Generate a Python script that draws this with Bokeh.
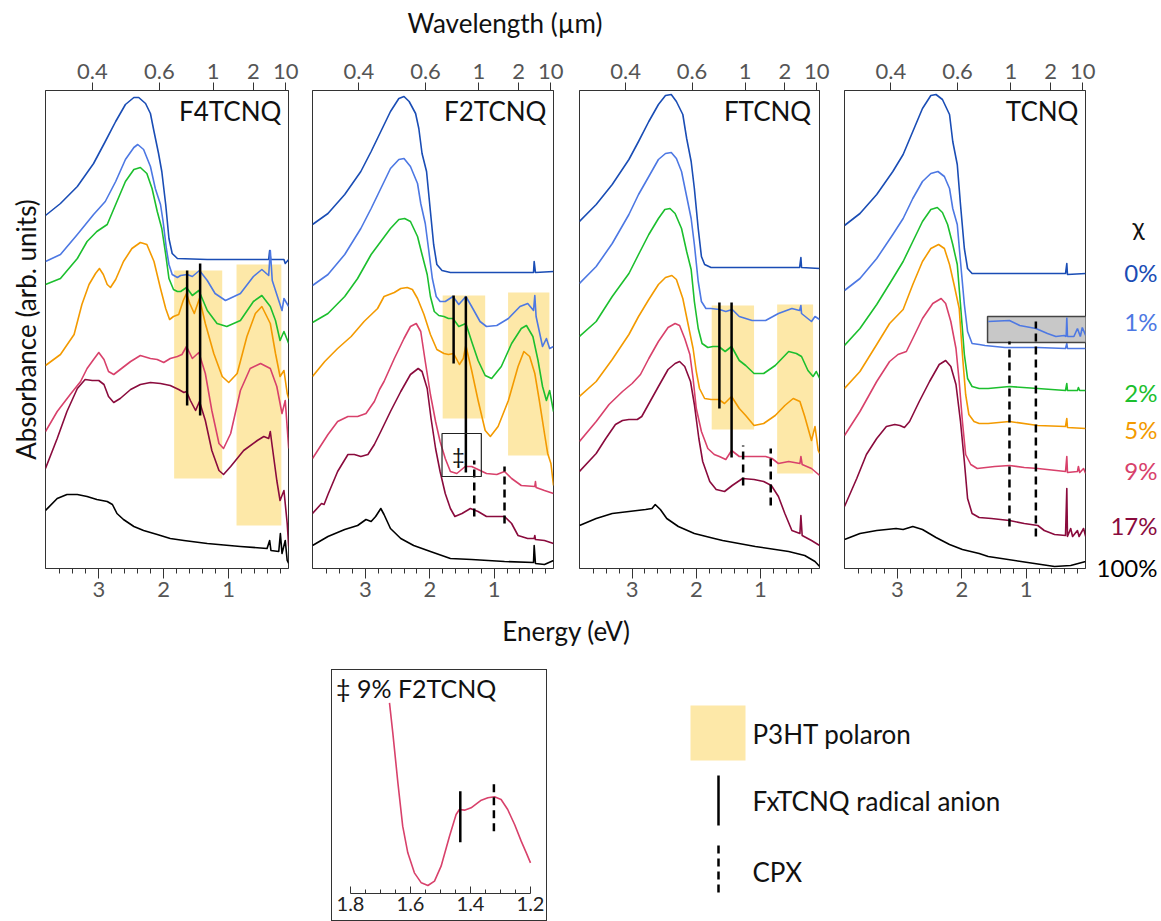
from bokeh.plotting import figure
from bokeh.models import (Range1d, LinearAxis, FixedTicker, CustomJSTickFormatter, Label,
                          ColumnDataSource, Spacer)
from bokeh.layouts import row, column
from bokeh.embed import file_html
from bokeh.resources import INLINE
from bokeh.core.properties import value

FONT = "Lato"
HC = 1.23984  # eV*um

CONC_LABELS = ["0%", "1%", "2%", "5%", "9%", "17%", "100%"]
CONC_LABEL_Y = [2.96, 2.47, 1.76, 1.39, 0.98, 0.43, 0.01]
COLORS = ["#1a4db5", "#4d78e3", "#1cbf2e", "#f39a00", "#d8416b", "#8a0b3d", "#000000"]
DOPANTS = ["F4TCNQ", "F2TCNQ", "FTCNQ", "TCNQ"]
WAVELENGTH_TICKS = [0.4, 0.6, 1, 2, 10]
ENERGY_TICKS = [3, 2, 1]
ENERGY_MINOR = [3.6, 3.4, 3.2, 2.8, 2.6, 2.4, 2.2, 1.8, 1.6, 1.4, 1.2, 0.8, 0.6, 0.4, 0.2]
INSET_TICKS = [1.8, 1.6, 1.4, 1.2]
INSET_MINOR = [1.75, 1.7, 1.65, 1.55, 1.5, 1.45, 1.35, 1.3, 1.25]

# ---------------- F4TCNQ spectra (energy eV, absorbance offset a.u.) ----------------
F4_0 = [(3.82,3.53),(3.59,3.65),(3.33,3.82),(3.08,4.05),(2.90,4.27),(2.74,4.47),(2.59,4.64),(2.46,4.71),
        (2.385,4.71),(2.28,4.65),(2.205,4.55),(2.15,4.37),(2.08,4.15),(2.03,3.97),(1.97,3.64),(1.92,3.30),
        (1.87,3.15),(1.79,3.10),(1.33,3.09),(0.82,3.09),(0.385,3.09),(0.37,3.18),(0.355,3.09),(0.15,3.09),
        (0.13,3.05),(0.077,3.09)]
F4_1 = [(3.82,3.07),(3.59,3.14),(3.33,3.34),(3.08,3.54),(2.90,3.67),(2.74,3.87),(2.59,4.09),(2.46,4.21),
        (2.40,4.24),(2.31,4.19),(2.205,4.02),(2.13,3.80),(2.05,3.64),(2.01,3.47),(1.96,3.20),(1.92,3.04),
        (1.87,2.94),(1.79,2.91),(1.74,2.93),(1.64,2.94),(1.56,2.92),(1.45,2.98),(1.33,2.88),(1.21,2.75),
        (1.05,2.68),(0.82,2.75),(0.62,2.92),(0.49,2.99),(0.385,2.93),(0.36,3.18),(0.33,2.88),(0.23,2.68),
        (0.18,2.58),(0.15,2.70),(0.077,2.62)]
F4_2 = [(3.82,2.84),(3.59,2.90),(3.33,3.10),(3.18,3.27),(3.03,3.37),(2.87,3.44),(2.74,3.64),(2.59,3.87),
        (2.46,3.99),(2.36,4.01),(2.26,3.95),(2.18,3.80),(2.10,3.57),(2.03,3.40),(1.97,3.14),(1.92,2.90),
        (1.85,2.79),(1.79,2.77),(1.74,2.77),(1.65,2.81),(1.56,2.73),(1.46,2.78),(1.33,2.58),(1.18,2.45),
        (1.03,2.42),(0.82,2.48),(0.62,2.67),(0.49,2.73),(0.36,2.62),(0.28,2.48),(0.21,2.28),(0.15,2.37),
        (0.077,2.25)]
F4_5 = [(3.82,2.03),(3.59,2.14),(3.38,2.34),(3.26,2.64),(3.15,2.84),(3.05,2.95),(2.99,3.00),(2.93,2.94),
        (2.87,2.84),(2.82,2.81),(2.74,2.89),(2.62,3.07),(2.49,3.20),(2.36,3.26),(2.26,3.24),(2.15,3.07),
        (2.05,2.80),(1.97,2.60),(1.91,2.49),(1.85,2.52),(1.77,2.54),(1.70,2.68),(1.65,2.75),(1.60,2.65),
        (1.53,2.55),(1.45,2.70),(1.36,2.45),(1.23,2.15),(1.10,1.92),(1.00,1.86),(0.87,1.95),(0.72,2.32),
        (0.59,2.55),(0.49,2.62),(0.36,2.45),(0.28,2.15),(0.21,1.92),(0.15,1.98),(0.10,1.75),(0.077,1.70)]
F4_9 = [(3.82,1.37),(3.64,1.57),(3.44,1.74),(3.28,1.87),(3.18,2.00),(3.08,2.09),(3.00,2.16),(2.92,2.09),
        (2.85,1.97),(2.77,1.94),(2.67,1.99),(2.51,2.07),(2.36,2.13),(2.205,2.10),(2.10,2.09),(2.00,2.06),
        (1.90,2.10),(1.79,2.12),(1.72,2.14),(1.65,2.22),(1.56,2.10),(1.46,2.16),(1.36,1.95),(1.26,1.58),
        (1.15,1.25),(1.08,1.20),(0.97,1.35),(0.82,1.78),(0.67,2.00),(0.51,2.05),(0.36,2.00),(0.26,1.82),
        (0.18,1.55),(0.13,1.68),(0.077,1.20)]
F4_17 = [(3.82,1.00),(3.64,1.30),(3.49,1.57),(3.33,1.80),(3.21,1.89),(3.10,1.88),(3.00,1.88),(2.92,1.84),
         (2.85,1.72),(2.77,1.66),(2.67,1.70),(2.51,1.79),(2.36,1.84),(2.205,1.86),(2.05,1.85),(1.90,1.83),
         (1.77,1.79),(1.69,1.76),(1.65,1.77),(1.59,1.68),(1.51,1.58),(1.45,1.67),(1.36,1.48),(1.26,1.18),
         (1.15,0.98),(1.08,0.94),(0.97,1.02),(0.77,1.18),(0.56,1.28),(0.46,1.32),(0.385,1.30),(0.36,1.37),
         (0.33,1.22),(0.26,0.88),(0.21,0.68),(0.15,0.78),(0.10,0.45),(0.077,0.22)]
F4_100 = [(3.82,0.58),(3.64,0.70),(3.49,0.74),(3.33,0.74),(3.18,0.72),(3.03,0.69),(2.87,0.67),(2.79,0.64),
          (2.72,0.55),(2.62,0.49),(2.46,0.42),(2.31,0.38),(2.10,0.34),(1.90,0.30),(1.69,0.28),(1.33,0.25),
          (0.82,0.22),(0.41,0.20),(0.37,0.28),(0.35,0.18),(0.23,0.17),(0.205,0.35),(0.18,0.15),(0.13,0.28),
          (0.10,0.08),(0.077,0.05)]

# ---------------- F2TCNQ spectra ----------------
F2_0 = [(3.82,3.44),(3.58,3.55),(3.32,3.74),(3.07,3.97),(2.91,4.17),(2.76,4.37),(2.61,4.57),(2.48,4.70),
        (2.40,4.72),(2.32,4.67),(2.22,4.55),(2.17,4.40),(2.12,4.15),(2.05,3.97),(1.99,3.57),(1.94,3.24),
        (1.89,3.04),(1.81,2.98),(1.68,2.96),(1.35,2.96),(0.84,2.96),(0.39,2.96),(0.38,3.07),(0.36,2.96),
        (0.08,2.97)]
F2_1 = [(3.82,2.83),(3.58,2.94),(3.32,3.14),(3.07,3.40),(2.91,3.60),(2.76,3.80),(2.61,4.00),(2.48,4.09),
        (2.40,4.10),(2.30,4.02),(2.19,3.85),(2.14,3.65),(2.07,3.45),(2.02,3.20),(1.96,2.90),(1.90,2.72),
        (1.84,2.67),(1.76,2.67),(1.64,2.72),(1.55,2.64),(1.44,2.72),(1.35,2.62),(1.22,2.47),(1.12,2.42),
        (0.96,2.43),(0.78,2.50),(0.60,2.62),(0.48,2.65),(0.39,2.58),(0.37,2.73),(0.35,2.52),(0.25,2.22),
        (0.19,2.30),(0.14,2.20),(0.08,2.22)]
F2_2 = [(3.82,2.46),(3.58,2.55),(3.32,2.72),(3.12,2.90),(2.91,3.14),(2.76,3.27),(2.61,3.40),(2.48,3.49),
        (2.39,3.50),(2.30,3.47),(2.19,3.32),(2.12,3.14),(2.04,2.94),(1.99,2.72),(1.93,2.57),(1.86,2.53),
        (1.78,2.52),(1.71,2.50),(1.64,2.50),(1.55,2.42),(1.44,2.45),(1.35,2.27),(1.25,2.08),(1.14,1.93),
        (1.04,1.90),(0.89,2.02),(0.73,2.25),(0.58,2.40),(0.50,2.43),(0.40,2.32),(0.32,2.08),(0.25,1.82),
        (0.19,1.68),(0.14,1.78),(0.08,1.57)]
F2_5 = [(3.82,1.92),(3.63,2.07),(3.43,2.20),(3.22,2.32),(3.02,2.47),(2.81,2.60),(2.71,2.72),(2.55,2.76),
        (2.45,2.80),(2.35,2.81),(2.27,2.79),(2.19,2.70),(2.09,2.54),(1.99,2.34),(1.89,2.19),(1.78,2.15),
        (1.71,2.14),(1.63,2.15),(1.54,2.04),(1.48,2.10),(1.44,2.23),(1.35,1.98),(1.25,1.68),(1.14,1.38),
        (1.06,1.32),(0.94,1.42),(0.78,1.68),(0.63,2.02),(0.54,2.17),(0.45,2.12),(0.37,1.95),(0.30,1.68),
        (0.22,1.35),(0.17,1.15),(0.12,1.05),(0.08,0.83)]
F2_9 = [(3.82,1.10),(3.58,1.34),(3.43,1.47),(3.27,1.52),(3.12,1.52),(2.99,1.55),(2.86,1.67),(2.78,1.79),
        (2.71,1.87),(2.55,2.10),(2.40,2.30),(2.30,2.42),(2.21,2.45),(2.14,2.37),(2.07,2.07),(1.99,1.74),
        (1.91,1.47),(1.84,1.27),(1.76,1.10),(1.68,0.97),(1.58,0.95),(1.45,1.02),(1.35,1.02),(1.25,0.99),
        (1.12,0.95),(0.96,0.94),(0.84,0.97),(0.73,0.90),(0.58,0.83),(0.37,0.82),(0.36,0.87),(0.35,0.81),
        (0.22,0.78),(0.08,0.75)]
F2_17 = [(3.82,0.55),(3.68,0.65),(3.64,0.64),(3.58,0.74),(3.43,0.97),(3.27,1.14),(3.17,1.14),(3.07,1.12),
         (2.96,1.14),(2.86,1.24),(2.76,1.37),(2.61,1.57),(2.45,1.77),(2.30,1.94),(2.18,2.00),(2.12,1.97),
         (2.04,1.80),(1.98,1.50),(1.91,1.20),(1.84,0.97),(1.76,0.75),(1.68,0.60),(1.61,0.52),(1.50,0.55),
         (1.37,0.60),(1.25,0.57),(1.12,0.52),(0.96,0.52),(0.84,0.52),(0.73,0.45),(0.63,0.33),(0.48,0.30),
         (0.38,0.30),(0.37,0.33),(0.36,0.29),(0.22,0.28),(0.08,0.25)]
F2_100 = [(3.82,0.23),(3.58,0.32),(3.32,0.39),(3.12,0.43),(2.99,0.49),(2.91,0.47),(2.84,0.52),(2.76,0.60),
          (2.71,0.54),(2.61,0.40),(2.45,0.30),(2.25,0.23),(1.99,0.17),(1.68,0.10),(1.35,0.09),(0.84,0.07),
          (0.39,0.06),(0.38,0.23),(0.36,0.05),(0.22,0.04),(0.08,0.08)]

# ---------------- FTCNQ spectra ----------------
FT_0 = [(3.82,3.47),(3.56,3.64),(3.31,3.84),(3.05,4.09),(2.90,4.27),(2.74,4.47),(2.59,4.64),(2.48,4.73),
        (2.39,4.74),(2.31,4.67),(2.21,4.54),(2.15,4.30),(2.08,4.07),(2.03,3.80),(1.97,3.40),(1.92,3.12),
        (1.87,3.04),(1.77,3.01),(1.33,3.01),(0.39,3.01),(0.37,3.11),(0.36,3.01),(0.077,3.00)]
FT_1 = [(3.82,2.85),(3.56,3.02),(3.31,3.25),(3.05,3.54),(2.90,3.74),(2.74,3.92),(2.59,4.09),(2.48,4.15),
        (2.39,4.16),(2.31,4.10),(2.23,3.97),(2.15,3.72),(2.08,3.50),(2.03,3.24),(1.97,2.87),(1.92,2.67),
        (1.85,2.60),(1.77,2.60),(1.64,2.59),(1.54,2.57),(1.44,2.59),(1.33,2.52),(1.13,2.48),(0.92,2.48),
        (0.72,2.55),(0.51,2.60),(0.39,2.58),(0.37,2.63),(0.36,2.55),(0.205,2.47),(0.15,2.52),(0.077,2.49)]
FT_2 = [(3.82,2.32),(3.56,2.47),(3.31,2.72),(3.05,2.95),(2.90,3.14),(2.74,3.34),(2.59,3.50),(2.49,3.59),
        (2.41,3.60),(2.33,3.55),(2.23,3.40),(2.15,3.17),(2.08,2.99),(2.03,2.67),(1.97,2.40),(1.91,2.25),
        (1.82,2.21),(1.74,2.22),(1.65,2.22),(1.55,2.17),(1.45,2.22),(1.33,2.08),(1.23,2.03),(1.10,1.95),
        (0.95,1.95),(0.77,2.03),(0.56,2.17),(0.44,2.15),(0.36,2.12),(0.26,1.98),(0.18,1.92),(0.13,1.97),
        (0.077,1.90)]
FT_5 = [(3.82,1.72),(3.56,1.87),(3.31,2.09),(3.05,2.34),(2.90,2.52),(2.74,2.69),(2.59,2.84),(2.48,2.91),
        (2.38,2.93),(2.31,2.89),(2.21,2.70),(2.13,2.45),(2.05,2.20),(2.00,1.97),(1.95,1.80),(1.87,1.70),
        (1.77,1.69),(1.65,1.69),(1.56,1.65),(1.45,1.72),(1.33,1.60),(1.23,1.53),(1.10,1.43),(0.95,1.45),
        (0.77,1.53),(0.62,1.63),(0.49,1.70),(0.385,1.67),(0.31,1.52),(0.205,1.28),(0.15,1.42),(0.10,1.18),
        (0.077,1.15)]
FT_9 = [(3.82,1.27),(3.56,1.47),(3.36,1.64),(3.15,1.77),(3.00,1.85),(2.87,1.94),(2.74,2.10),(2.59,2.27),
        (2.44,2.41),(2.33,2.45),(2.26,2.43),(2.18,2.30),(2.10,2.14),(2.05,1.90),(2.00,1.60),(1.92,1.37),
        (1.82,1.20),(1.72,1.14),(1.64,1.12),(1.54,1.09),(1.45,1.18),(1.33,1.12),(1.13,1.12),(0.92,1.12),
        (0.82,1.10),(0.72,1.05),(0.56,1.07),(0.385,1.05),(0.37,1.12),(0.35,1.04),(0.205,1.00),(0.077,0.93)]
FT_17 = [(3.82,0.97),(3.56,1.15),(3.41,1.30),(3.26,1.44),(3.15,1.48),(3.05,1.49),(2.92,1.49),(2.85,1.52),
         (2.72,1.67),(2.59,1.82),(2.44,1.99),(2.33,2.05),(2.26,2.07),(2.18,2.02),(2.09,1.87),(2.03,1.64),
         (1.96,1.30),(1.90,1.07),(1.79,0.87),(1.69,0.79),(1.56,0.77),(1.44,0.83),(1.28,0.90),(1.10,0.89),
         (0.95,0.87),(0.83,0.83),(0.72,0.72),(0.62,0.55),(0.51,0.38),(0.385,0.35),(0.37,0.53),(0.35,0.33),
         (0.205,0.28),(0.077,0.23)]
FT_100 = [(3.82,0.43),(3.56,0.50),(3.31,0.55),(3.05,0.57),(2.79,0.59),(2.69,0.60),(2.64,0.64),(2.56,0.59),
          (2.46,0.50),(2.28,0.42),(2.03,0.35),(1.72,0.30),(1.59,0.28),(1.08,0.22),(0.56,0.17),(0.31,0.13),
          (0.15,0.07),(0.077,0.02)]

# ---------------- TCNQ spectra ----------------
TC_0 = [(3.82,3.43),(3.58,3.55),(3.32,3.74),(3.07,3.97),(2.91,4.14),(2.76,4.37),(2.61,4.60),(2.48,4.73),
        (2.40,4.74),(2.30,4.69),(2.19,4.54),(2.14,4.27),(2.07,4.04),(2.02,3.64),(1.96,3.20),(1.91,3.00),
        (1.84,2.95),(1.73,2.95),(1.33,2.95),(0.39,2.95),(0.37,3.05),(0.36,2.94),(0.077,2.95)]
TC_1 = [(3.82,2.78),(3.58,2.90),(3.32,3.10),(3.07,3.34),(2.91,3.50),(2.76,3.70),(2.61,3.87),(2.48,3.95),
        (2.37,3.97),(2.27,3.92),(2.19,3.80),(2.14,3.60),(2.07,3.44),(2.02,3.07),(1.96,2.64),(1.91,2.37),
        (1.84,2.25),(1.73,2.24),(1.64,2.23),(1.33,2.21),(0.82,2.21),(0.39,2.20),(0.37,2.25),(0.36,2.20),
        (0.077,2.20)]
TC_2 = [(3.82,2.23),(3.58,2.40),(3.32,2.64),(3.07,2.90),(2.91,3.07),(2.76,3.27),(2.61,3.47),(2.48,3.59),
        (2.38,3.61),(2.30,3.56),(2.22,3.44),(2.14,3.24),(2.07,3.04),(2.02,2.64),(1.96,2.14),(1.91,1.90),
        (1.84,1.82),(1.73,1.80),(1.59,1.80),(1.26,1.82),(0.82,1.80),(0.39,1.78),(0.37,1.85),(0.36,1.78),
        (0.205,1.78),(0.19,1.81),(0.17,1.78),(0.077,1.78)]
TC_5 = [(3.82,1.80),(3.58,1.97),(3.32,2.24),(3.12,2.45),(2.91,2.59),(2.76,2.84),(2.61,3.07),(2.48,3.20),
        (2.36,3.24),(2.27,3.20),(2.19,3.04),(2.12,2.84),(2.04,2.60),(1.99,2.14),(1.94,1.74),(1.89,1.54),
        (1.81,1.47),(1.73,1.45),(1.59,1.45),(1.26,1.47),(0.82,1.43),(0.39,1.42),(0.37,1.50),(0.36,1.41),
        (0.077,1.40)]
TC_9 = [(3.82,1.33),(3.58,1.57),(3.32,1.87),(3.12,2.07),(2.99,2.14),(2.86,2.17),(2.76,2.30),(2.61,2.50),
        (2.45,2.65),(2.32,2.70),(2.25,2.65),(2.17,2.47),(2.09,2.20),(2.04,1.87),(1.99,1.47),(1.94,1.14),
        (1.86,1.04),(1.76,1.00),(1.49,1.02),(1.26,1.03),(1.03,1.01),(0.82,1.00),(0.39,0.97),(0.37,1.12),
        (0.36,0.96),(0.205,0.97),(0.19,1.02),(0.17,0.96),(0.11,1.00),(0.077,0.95)]
TC_17 = [(3.82,0.62),(3.63,0.90),(3.48,1.14),(3.32,1.30),(3.17,1.42),(3.04,1.44),(2.96,1.43),(2.89,1.41),
         (2.81,1.47),(2.66,1.67),(2.50,1.87),(2.35,2.04),(2.25,2.08),(2.17,2.02),(2.09,1.84),(2.02,1.47),
         (1.96,1.07),(1.91,0.70),(1.84,0.55),(1.73,0.51),(1.54,0.50),(1.26,0.48),(1.03,0.45),(0.82,0.43),
         (0.72,0.38),(0.56,0.34),(0.39,0.33),(0.37,0.80),(0.36,0.32),(0.31,0.40),(0.28,0.32),(0.205,0.38),
         (0.18,0.32),(0.11,0.40),(0.077,0.32)]
TC_100 = [(3.82,0.29),(3.58,0.35),(3.32,0.38),(3.02,0.40),(2.91,0.39),(2.76,0.42),(2.61,0.39),(2.40,0.31),
          (2.19,0.24),(1.99,0.19),(1.73,0.15),(1.59,0.12),(1.08,0.07),(0.56,0.02),(0.31,0.03),(0.077,0.07)]
# magnified 1% TCNQ trace shown in the grey box
TC_1_ZOOM = [(1.59,2.47),(1.26,2.48),(1.10,2.43),(0.85,2.40),(0.67,2.35),(0.54,2.32),(0.41,2.33),(0.38,2.32),
             (0.37,2.51),(0.36,2.32),(0.26,2.32),(0.205,2.40),(0.16,2.32),(0.13,2.41),(0.077,2.33)]
TC_ZOOM_BOX = (1.60, 0.05, 2.26, 2.52)

# polaron bands (E_high, E_low, a_bottom, a_top)
F4_BANDS = [(1.84, 1.10, 0.90, 2.98), (0.88, 0.19, 0.43, 3.04)]
F2_BANDS = [(1.80, 1.14, 1.50, 2.73), (0.785, 0.144, 1.13, 2.76)]
FT_BANDS = [(1.76, 1.10, 1.39, 2.63), (0.74, 0.18, 0.95, 2.64)]
TC_BANDS = []
# radical anion (solid) and CPX (dashed) markers: (E, a_bottom, a_top)
F4_ANION = [(1.64, 1.63, 2.98), (1.44, 1.53, 3.05)]
F2_ANION = [(1.63, 2.05, 2.73), (1.44, 0.96, 2.72)]
FT_ANION = [(1.64, 1.60, 2.66), (1.45, 1.11, 2.66)]
TC_ANION = []
F4_CPX = []
F2_CPX = [(1.31, 0.52, 1.08), (0.84, 0.45, 1.02)]
FT_CPX = [(1.27, 0.83, 1.23), (0.84, 0.63, 1.20)]
TC_CPX = [(1.26, 0.42, 2.27), (0.85, 0.32, 2.47)]
F2_DAGGER_BOX = (1.81, 1.20, 0.92, 1.35)

# inset: 9% F2TCNQ
INSET_9 = [(1.67,5.72),(1.659,4.82),(1.642,3.32),(1.626,2.02),(1.609,1.22),(1.587,0.62),(1.564,0.32),
           (1.542,0.24),(1.52,0.37),(1.498,0.82),(1.47,1.72),(1.448,2.37),(1.437,2.52),(1.42,2.50),
           (1.398,2.57),(1.364,2.80),(1.342,2.87),(1.32,2.90),(1.298,2.82),(1.276,2.52),(1.253,2.07),
           (1.231,1.57),(1.214,1.22),(1.2,0.92)]
INSET_ANION = [(1.434, 1.54, 3.07)]
INSET_CPX = [(1.322, 1.87, 3.40)]

SPECTRA = {
    "F4TCNQ": [F4_0, F4_1, F4_2, F4_5, F4_9, F4_17, F4_100],
    "F2TCNQ": [F2_0, F2_1, F2_2, F2_5, F2_9, F2_17, F2_100],
    "FTCNQ": [FT_0, FT_1, FT_2, FT_5, FT_9, FT_17, FT_100],
    "TCNQ": [TC_0, TC_1, TC_2, TC_5, TC_9, TC_17, TC_100],
}
BANDS = {"F4TCNQ": F4_BANDS, "F2TCNQ": F2_BANDS, "FTCNQ": FT_BANDS, "TCNQ": TC_BANDS}
ANION = {"F4TCNQ": F4_ANION, "F2TCNQ": F2_ANION, "FTCNQ": FT_ANION, "TCNQ": TC_ANION}
CPX = {"F4TCNQ": F4_CPX, "F2TCNQ": F2_CPX, "FTCNQ": FT_CPX, "TCNQ": TC_CPX}

YELLOW = "#fde8a8"
FRAME = "#333333"
TICKLAB = "#555555"
TXT = "#111111"

# panel geometry (figure width, left border, right border)
GEOM = {"F4TCNQ": (300, 45, 12), "F2TCNQ": (265, 12, 12), "FTCNQ": (266, 14, 12), "TCNQ": (266, 13, 12)}


def no_align(f):
    if "frame_align" in f.properties():
        f.frame_align = False


def style_axis(ax, size="22px"):
    ax.axis_line_color = FRAME
    ax.major_tick_line_color = FRAME
    ax.minor_tick_line_color = FRAME
    ax.major_label_text_font = FONT
    ax.major_label_text_font_size = size
    ax.major_label_text_color = TICKLAB
    ax.axis_label_text_font = FONT
    ax.axis_label_text_font_style = "normal"


def segs(p, marks, dash):
    if not marks:
        return
    src = ColumnDataSource(dict(x=[m[0] for m in marks], y0=[m[1] for m in marks], y1=[m[2] for m in marks]))
    p.segment(x0="x", y0="y0", x1="x", y1="y1", source=src, line_color="black", line_width=2.5,
              line_dash=("8 5" if dash else "solid"))


def make_panel(name, first=False):
    w, lb, rb = GEOM[name]
    p = figure(width=w, height=566, x_range=Range1d(3.82, 0.08), y_range=Range1d(0, 4.78),
               output_backend="svg", toolbar_location=None,
               y_axis_location=("left" if first else None),
               min_border_left=lb, min_border_right=rb, min_border_top=50, min_border_bottom=38)
    p.grid.visible = False
    p.outline_line_color = FRAME
    p.background_fill_color = "white"
    p.border_fill_color = "white"

    xa = p.xaxis[0]
    xa.ticker = FixedTicker(ticks=ENERGY_TICKS, minor_ticks=ENERGY_MINOR)
    style_axis(xa)
    xa.major_tick_out = 10
    xa.major_tick_in = 0
    xa.minor_tick_out = 5
    xa.minor_tick_in = 0
    xa.major_label_standoff = 3

    top = LinearAxis(ticker=FixedTicker(ticks=[HC / wl for wl in WAVELENGTH_TICKS], minor_ticks=[]),
                     formatter=CustomJSTickFormatter(code="return String(Math.round(12.3984/tick)/10);"))
    style_axis(top)
    top.major_tick_out = 8
    top.major_tick_in = 0
    top.minor_tick_out = 0
    top.minor_tick_in = 0
    top.major_label_standoff = 4
    p.add_layout(top, "above")

    if first:
        ya = p.yaxis[0]
        ya.ticker = FixedTicker(ticks=[])
        ya.axis_line_color = None
        ya.major_tick_line_color = None
        ya.minor_tick_line_color = None
        ya.major_label_text_font_size = "0px"
        ya.axis_label = "Absorbance (arb. units)"
        ya.axis_label_text_font = FONT
        ya.axis_label_text_font_style = "normal"
        ya.axis_label_text_font_size = "26px"
        ya.axis_label_text_color = TXT
        ya.axis_label_standoff = 4

    bands = BANDS[name]
    if bands:
        p.quad(left=[b[0] for b in bands], right=[b[1] for b in bands],
               bottom=[b[2] for b in bands], top=[b[3] for b in bands],
               fill_color=YELLOW, line_color=None)

    for curve, col in zip(SPECTRA[name], COLORS):
        p.line([c[0] for c in curve], [c[1] for c in curve], line_color=col, line_width=1.6,
               line_join="round")

    if name == "TCNQ":
        l, r, b, t = TC_ZOOM_BOX
        p.quad(left=[l], right=[r], bottom=[b], top=[t], fill_color="#c8c8c8", line_color="#444444",
               line_width=1.5)
        p.line([c[0] for c in TC_1_ZOOM], [c[1] for c in TC_1_ZOOM], line_color=COLORS[1], line_width=1.6)

    segs(p, ANION[name], False)
    segs(p, CPX[name], True)

    if name == "F2TCNQ":
        l, r, b, t = F2_DAGGER_BOX
        p.quad(left=[l], right=[r], bottom=[b], top=[t], fill_color=None, line_color="#222222",
               line_width=1.2)
        p.text(x=[(l + r) / 2 + 0.05], y=[(b + t) / 2], text=["\u2021"], text_align="center",
               text_baseline="middle", text_font=value(FONT), text_font_size="22px", text_color=TXT)

    p.add_layout(Label(x=0.19 if name != "FTCNQ" else 0.21, y=4.74, text=name, text_align="right",
                       text_baseline="top", text_font=FONT, text_font_size="26px", text_color=TXT))
    return p


panels = [make_panel(n, first=(i == 0)) for i, n in enumerate(DOPANTS)]


def blank(width, height, yr=None):
    f = figure(width=width, height=height, x_range=Range1d(0, width),
               y_range=(yr if yr is not None else Range1d(height, 0)),
               output_backend="svg", toolbar_location=None, x_axis_location=None, y_axis_location=None,
               min_border=0)
    f.grid.visible = False
    f.outline_line_color = None
    f.background_fill_color = "white"
    f.border_fill_color = "white"
    no_align(f)
    return f


# concentration (chi) labels column, on the panels' absorbance scale (extended to the full figure height)
chi_fig = blank(64, 566, Range1d(-0.38, 5.28))
chi_fig.text(x=[41], y=[3.43], text=["\u03c7"], text_align="center", text_baseline="middle",
             text_font=value(FONT), text_font_size="25px", text_color=TXT)
chi_fig.text(x=[60] * len(CONC_LABELS), y=CONC_LABEL_Y, text=CONC_LABELS, text_align="right",
             text_baseline="middle", text_font=value(FONT), text_font_size="24px", text_color=COLORS)

title_fig = blank(1161, 40)
title_fig.text(x=[407], y=[22], text=["Wavelength (\u00b5m)"], text_align="left", text_baseline="middle",
               text_font=value(FONT), text_font_size="26px", text_color=TXT)

energy_fig = blank(1161, 40)
energy_fig.text(x=[566], y=[24], text=["Energy (eV)"], text_align="center", text_baseline="middle",
                text_font=value(FONT), text_font_size="26px", text_color=TXT)

# inset
ins = figure(width=216, height=252, x_range=Range1d(1.86, 1.14), y_range=Range1d(0, 6.69),
             output_backend="svg", toolbar_location=None, y_axis_location=None,
             min_border_left=0, min_border_right=0, min_border_top=0, min_border_bottom=29)
ins.grid.visible = False
ins.outline_line_color = None
ins.background_fill_color = "white"
ins.border_fill_color = "white"
ins.styles = {"border": "1.5px solid #333333"}
no_align(ins)
ia = ins.xaxis[0]
ia.ticker = FixedTicker(ticks=INSET_TICKS, minor_ticks=INSET_MINOR)
ia.bounds = (1.2, 1.8)
style_axis(ia, "20px")
ia.major_label_text_color = "#222222"
ia.major_tick_in = 7
ia.major_tick_out = 0
ia.minor_tick_in = 4
ia.minor_tick_out = 0
ia.major_label_standoff = 3
ins.line([c[0] for c in INSET_9], [c[1] for c in INSET_9], line_color=COLORS[4], line_width=1.6)
segs(ins, INSET_ANION, False)
segs(ins, INSET_CPX, True)
ins.add_layout(Label(x=1.848, y=6.62, text="\u2021 9% F2TCNQ", text_align="left", text_baseline="top",
                     text_font=FONT, text_font_size="25px", text_color=TXT))

# legend
leg = blank(614, 275)
leg.quad(left=[143], right=[198], top=[59], bottom=[114], fill_color=YELLOW, line_color=None)
leg.segment(x0=[171], y0=[129], x1=[171], y1=[179], line_color="black", line_width=2.5)
leg.segment(x0=[171], y0=[199], x1=[171], y1=[251], line_color="black", line_width=2.5, line_dash="8 5")
leg.text(x=[205, 205, 205], y=[87, 154, 225], text=["P3HT polaron", "FxTCNQ radical anion", "CPX"],
         text_align="left", text_baseline="middle", text_font=value(FONT), text_font_size="26px",
         text_color=TXT)

layout = column(
    title_fig,
    row(*panels, chi_fig),
    energy_fig,
    row(Spacer(width=331, height=275), column(Spacer(width=216, height=23), ins), leg),
)

open("out.html", "w").write(file_html(layout, INLINE))
